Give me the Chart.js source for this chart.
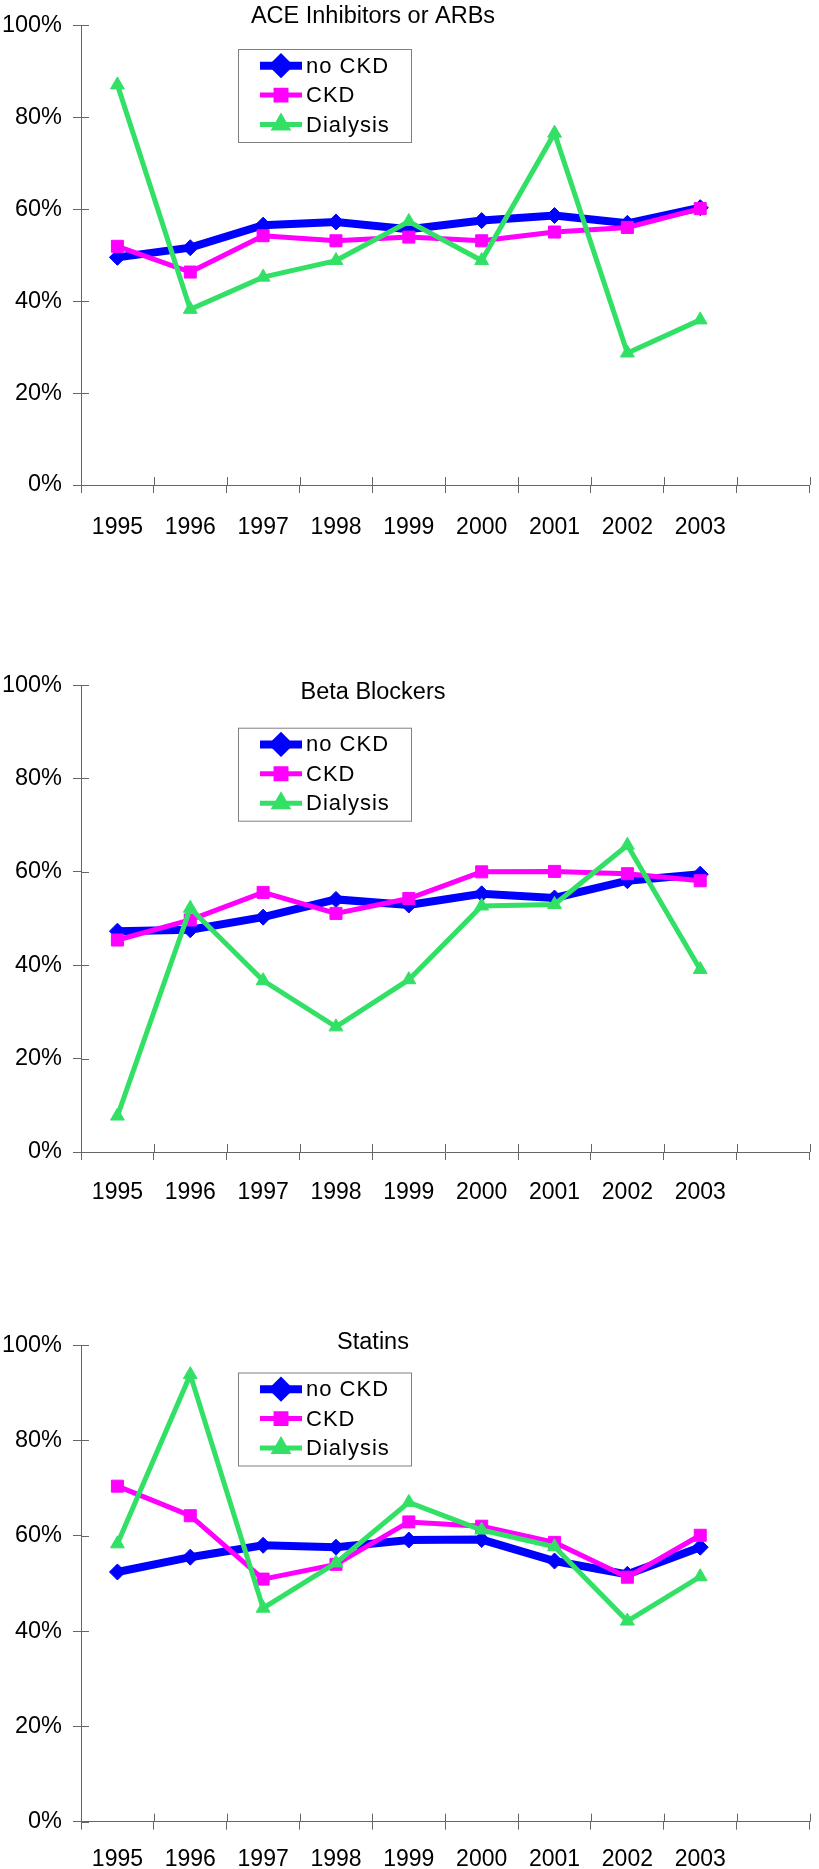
<!DOCTYPE html>
<html>
<head>
<meta charset="utf-8">
<script src="https://cdn.jsdelivr.net/npm/chart.js@4.4.1/dist/chart.umd.min.js"></script>
<style>
  html, body { margin: 0; padding: 0; background: #fff; }
  body { width: 819px; height: 1869px; position: relative; overflow: hidden; }
  .panel { position: absolute; left: 0; }
  canvas { display: block; }
</style>
</head>
<body>
<div class="panel" style="top:0px"><canvas id="ace" width="819" height="560"></canvas></div>
<div class="panel" style="top:660px"><canvas id="beta" width="819" height="560"></canvas></div>
<div class="panel" style="top:1320px"><canvas id="statins" width="819" height="549"></canvas></div>
<script>
// Three stacked line panels: prescribing rates by year for no CKD / CKD / dialysis.
// Last category is left blank, as in the original, so the axis runs one slot past 2003.

const YEARS = ['1995', '1996', '1997', '1998', '1999', '2000', '2001', '2002', '2003', ''];
const SERIES_NAMES = ['no CKD', 'CKD', 'Dialysis'];

const ACE_NO_CKD = [49.5, 51.6, 56.5, 57.2, 55.6, 57.5, 58.6, 56.9, 60.3];
const ACE_CKD = [51.9, 46.3, 54.2, 53.1, 53.9, 53.1, 55.0, 56.0, 60.1];
const ACE_DIALYSIS = [87.0, 38.2, 45.2, 48.8, 57.3, 48.8, 76.5, 28.7, 35.9];

const BETA_NO_CKD = [47.3, 47.6, 50.3, 54.1, 52.9, 55.3, 54.4, 58.1, 59.5];
const BETA_CKD = [45.4, 49.7, 55.6, 51.1, 54.3, 60.0, 60.1, 59.6, 58.1];
const BETA_DIALYSIS = [7.7, 52.2, 36.7, 26.8, 36.9, 52.7, 53.0, 65.7, 39.1];

const STATIN_NO_CKD = [52.4, 55.5, 58.0, 57.6, 59.1, 59.2, 54.7, 51.9, 57.6];
const STATIN_CKD = [70.4, 64.2, 50.9, 54.0, 62.9, 62.0, 58.6, 51.3, 60.1];
const STATIN_DIALYSIS = [58.3, 93.8, 44.8, 54.3, 67.0, 61.2, 57.7, 42.1, 51.4];

const FONT = '"Liberation Sans", Arial, sans-serif';
const AXIS_COLOR = '#666666';
const STYLES = [
  { color: '#0000FF', width: 8, point: 'rectRot', radius: 8 },
  { color: '#FF00FF', width: 5, point: 'rect', radius: 8.5 },
  { color: '#33E066', width: 5, point: 'triangle', radius: 8 }
];

// Excel-style "cross" tick marks: Chart.js draws the outer half, this adds the inner half.
const crossTicks = {
  id: 'crossTicks',
  afterDraw(chart) {
    const { ctx, chartArea } = chart;
    const x = chart.scales.x;
    const y = chart.scales.y;
    ctx.save();
    ctx.strokeStyle = AXIS_COLOR;
    ctx.lineWidth = 1;
    ctx.beginPath();
    y.ticks.forEach((t) => {
      const py = Math.round(y.getPixelForValue(t.value)) + 0.5;
      ctx.moveTo(chartArea.left, py);
      ctx.lineTo(chartArea.left + 8, py);
    });
    for (let i = 0; i <= YEARS.length; i++) {
      const px = Math.round(x.getPixelForValue(i - 0.5)) + 0.5;
      ctx.moveTo(px, chartArea.bottom);
      ctx.lineTo(px, chartArea.bottom - 8);
    }
    ctx.stroke();
    ctx.restore();
  }
};

// Panel title and the boxed legend sitting inside the plot.
const panelDecor = {
  id: 'panelDecor',
  afterDraw(chart, args, opts) {
    const ctx = chart.ctx;
    ctx.save();
    ctx.fillStyle = '#000';
    ctx.font = '23.5px ' + FONT;
    ctx.textAlign = 'center';
    ctx.textBaseline = 'alphabetic';
    ctx.fillText(opts.title, 373, opts.titleBaseline);

    const bx = 238.5, by = opts.legendTop + 0.5, bw = 173, bh = 93;
    ctx.fillStyle = '#fff';
    ctx.fillRect(bx, by, bw, bh);
    ctx.strokeStyle = '#808080';
    ctx.lineWidth = 1;
    ctx.strokeRect(bx, by, bw, bh);

    SERIES_NAMES.forEach((name, i) => {
      const st = STYLES[i];
      const ry = opts.legendTop + 16.7 + i * 29.4;
      ctx.strokeStyle = st.color;
      ctx.fillStyle = st.color;
      ctx.lineWidth = st.width;
      ctx.beginPath();
      ctx.moveTo(260, ry);
      ctx.lineTo(302, ry);
      ctx.stroke();
      Chart.helpers.drawPoint(ctx, { pointStyle: st.point, radius: 7, rotation: 0, borderWidth: 1 }, 281, ry);
      ctx.fillStyle = '#000';
      ctx.font = '22px ' + FONT;
      ctx.letterSpacing = '1px';
      ctx.textAlign = 'left';
      ctx.textBaseline = 'middle';
      ctx.fillText(name, 306, ry + 1);
      ctx.letterSpacing = '0px';
    });
    ctx.restore();
  }
};

function dataset(label, values, idx) {
  const st = STYLES[idx];
  return {
    label,
    data: values,
    borderColor: st.color,
    backgroundColor: st.color,
    borderWidth: st.width,
    pointStyle: st.point,
    pointRadius: st.radius,
    pointBorderWidth: 1,
    pointBorderColor: st.color,
    pointBackgroundColor: st.color,
    tension: 0,
    order: 3 - idx
  };
}

function makePanel(id, cfg) {
  return new Chart(document.getElementById(id), {
    type: 'line',
    data: {
      labels: YEARS,
      datasets: [
        dataset('no CKD', cfg.noCkd, 0),
        dataset('CKD', cfg.ckd, 1),
        dataset('Dialysis', cfg.dialysis, 2)
      ]
    },
    options: {
      responsive: false,
      animation: false,
      devicePixelRatio: 1,
      layout: { padding: { top: cfg.padTop, right: 7, left: 0, bottom: 0 } },
      plugins: {
        legend: { display: false },
        tooltip: { enabled: false },
        panelDecor: { title: cfg.title, titleBaseline: cfg.titleBaseline, legendTop: cfg.legendTop }
      },
      scales: {
        x: {
          type: 'category',
          offset: true,
          grid: { offset: true, drawOnChartArea: false, drawTicks: true, tickLength: 8, color: AXIS_COLOR },
          border: { display: true, color: AXIS_COLOR, width: 1 },
          ticks: { color: '#000', font: { family: FONT, size: 23 }, padding: cfg.labelPad, maxRotation: 0, autoSkip: false },
          afterFit: (s) => { s.height = cfg.axisHeight; }
        },
        y: {
          min: 0,
          max: 100,
          grid: { drawOnChartArea: false, drawTicks: true, tickLength: 8, color: AXIS_COLOR },
          border: { display: true, color: AXIS_COLOR, width: 1 },
          ticks: { stepSize: 20, color: '#000', font: { family: FONT, size: 23.5 }, padding: 11, callback: (v) => v + '%' },
          afterFit: (s) => { s.width = 81; }
        }
      }
    },
    plugins: [crossTicks, panelDecor]
  });
}

makePanel('ace', {
  title: 'ACE Inhibitors or ARBs', titleBaseline: 23.3, legendTop: 49, padTop: 12.7, axisHeight: 75, labelPad: 21,
  noCkd: ACE_NO_CKD, ckd: ACE_CKD, dialysis: ACE_DIALYSIS
});
makePanel('beta', {
  title: 'Beta Blockers', titleBaseline: 39.3, legendTop: 67.7, padTop: 24.7, axisHeight: 68, labelPad: 18.5,
  noCkd: BETA_NO_CKD, ckd: BETA_CKD, dialysis: BETA_DIALYSIS
});
makePanel('statins', {
  title: 'Statins', titleBaseline: 29, legendTop: 52.5, padTop: 24.9, axisHeight: 47.3, labelPad: 16,
  noCkd: STATIN_NO_CKD, ckd: STATIN_CKD, dialysis: STATIN_DIALYSIS
});
</script>
</body>
</html>
